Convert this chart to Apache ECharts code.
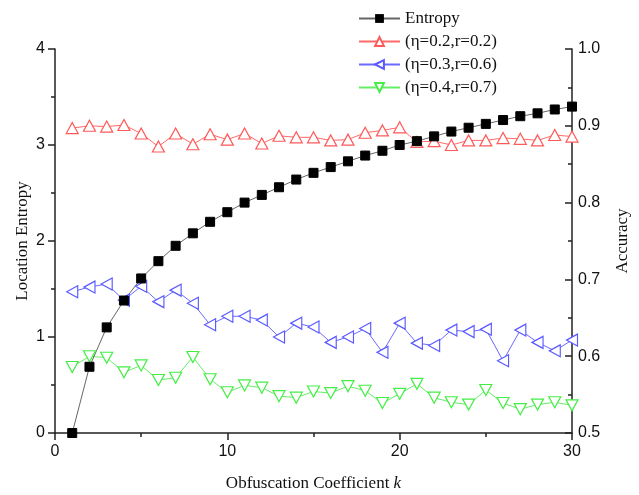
<!DOCTYPE html>
<html>
<head>
<meta charset="utf-8">
<script src="https://cdn.jsdelivr.net/npm/echarts@6/dist/echarts.min.js"></script>
<style>html,body{margin:0;padding:0;background:#fff;}#c{width:639px;height:495px;}</style>
</head>
<body>
<div id="c"></div>
<script>
const kValues = [1,2,3,4,5,6,7,8,9,10,11,12,13,14,15,16,17,18,19,20,21,22,23,24,25,26,27,28,29,30];
const entropy = [0,0.69,1.1,1.38,1.61,1.79,1.95,2.08,2.2,2.3,2.4,2.48,2.56,2.64,2.71,2.77,2.83,2.89,2.94,3.0,3.04,3.09,3.14,3.18,3.22,3.26,3.30,3.33,3.37,3.40];
const accA = [0.897,0.900,0.899,0.901,0.890,0.873,0.890,0.876,0.889,0.882,0.890,0.877,0.887,0.885,0.885,0.881,0.882,0.891,0.894,0.898,0.879,0.880,0.875,0.881,0.881,0.884,0.883,0.881,0.888,0.886];
const accB = [0.684,0.690,0.694,0.673,0.691,0.671,0.686,0.669,0.641,0.652,0.652,0.647,0.625,0.643,0.638,0.618,0.625,0.636,0.605,0.643,0.617,0.614,0.634,0.632,0.635,0.594,0.634,0.618,0.607,0.621];
const accC = [0.586,0.600,0.598,0.579,0.588,0.569,0.572,0.599,0.570,0.553,0.562,0.559,0.548,0.546,0.554,0.552,0.561,0.555,0.539,0.551,0.564,0.546,0.540,0.537,0.556,0.539,0.531,0.537,0.540,0.536];
const names = ['Entropy','(η=0.2,r=0.2)','(η=0.3,r=0.6)','(η=0.4,r=0.7)'];
const xTicks = [0,10,20,30];
const pair = arr => kValues.map((k,i)=>[k,arr[i]]);

const chart = echarts.init(document.getElementById('c'), null, {renderer:'canvas'});
const tickFont = {fontFamily:'Liberation Sans, Arial, sans-serif', fontSize:16, color:'#111'};
const nameFont = {fontFamily:'Liberation Serif, Times New Roman, serif', fontSize:17, color:'#111'};
chart.setOption({
  animation:false,
  backgroundColor:'#fff',
  grid:{left:55, right:67, top:49, bottom:62, containLabel:false, outerBoundsMode:'none'},
  legend:{
    orient:'vertical', left:353, top:5, itemWidth:41, itemHeight:11, itemGap:6,
    data:names,
    textStyle:{fontFamily:'Liberation Serif, Times New Roman, serif', fontSize:17, color:'#111'}
  },
  xAxis:{
    type:'value', min:0, max:30, interval:10,
    name:'{a|Obfuscation Coefficient }{b|k}', nameLocation:'middle', nameGap:42,
    nameTextStyle:{rich:{a:nameFont, b:Object.assign({}, nameFont, {fontStyle:'italic'})}},
    axisLine:{show:true, lineStyle:{color:'#222', width:1.5}},
    axisTick:{show:true, length:7, lineStyle:{color:'#222', width:1.5}},
    minorTick:{show:true, splitNumber:2, length:4, lineStyle:{color:'#222', width:1.5}},
    axisLabel:Object.assign({margin:11, formatter:v=>xTicks.includes(v)?String(v):''}, tickFont),
    splitLine:{show:false}
  },
  yAxis:[{
    type:'value', min:0, max:4, interval:1, position:'left',
    name:'Location Entropy', nameLocation:'middle', nameGap:24, nameRotate:90, nameMoveOverlap:false,
    nameTextStyle:nameFont,
    axisLine:{show:true, lineStyle:{color:'#222', width:1.5}},
    axisTick:{show:true, length:7, lineStyle:{color:'#222', width:1.5}},
    minorTick:{show:true, splitNumber:2, length:4, lineStyle:{color:'#222', width:1.5}},
    axisLabel:Object.assign({margin:10}, tickFont),
    splitLine:{show:false}
  },{
    type:'value', min:0.5, max:1.0, interval:0.1, position:'right',
    name:'Accuracy', nameLocation:'middle', nameGap:42, nameRotate:90,
    nameTextStyle:nameFont,
    axisLine:{show:true, lineStyle:{color:'#222', width:1.5}},
    axisTick:{show:true, inside:true, length:7, lineStyle:{color:'#222', width:1.5}},
    minorTick:{show:true, splitNumber:2, length:4, lineStyle:{color:'#222', width:1.5}},
    axisLabel:Object.assign({margin:6, formatter:v=>v.toFixed(1)}, tickFont),
    splitLine:{show:false}
  }],
  series:[
    {name:names[1], type:'line', yAxisIndex:1, data:pair(accA), symbol:'triangle', symbolSize:[12,11],
     lineStyle:{color:'#ff6a6a', width:1}, itemStyle:{color:'#fff', borderColor:'#ff5a5a', borderWidth:1.2}, color:'#ff6a6a'},
    {name:names[2], type:'line', yAxisIndex:1, data:pair(accB), symbol:'triangle', symbolRotate:90, symbolSize:[12,11],
     lineStyle:{color:'#6a6aff', width:1}, itemStyle:{color:'#fff', borderColor:'#5a5aff', borderWidth:1.2}, color:'#6a6aff'},
    {name:names[3], type:'line', yAxisIndex:1, data:pair(accC), symbol:'triangle', symbolRotate:180, symbolSize:[12,11],
     lineStyle:{color:'#66ee66', width:1}, itemStyle:{color:'#fff', borderColor:'#44ee44', borderWidth:1.2}, color:'#66ee66'},
    {name:names[0], type:'line', yAxisIndex:0, data:pair(entropy), symbol:'rect', symbolSize:9,
     lineStyle:{color:'#666', width:1}, itemStyle:{color:'#000', borderColor:'#000'}, color:'#000'}
  ]
});
</script>
</body>
</html>
